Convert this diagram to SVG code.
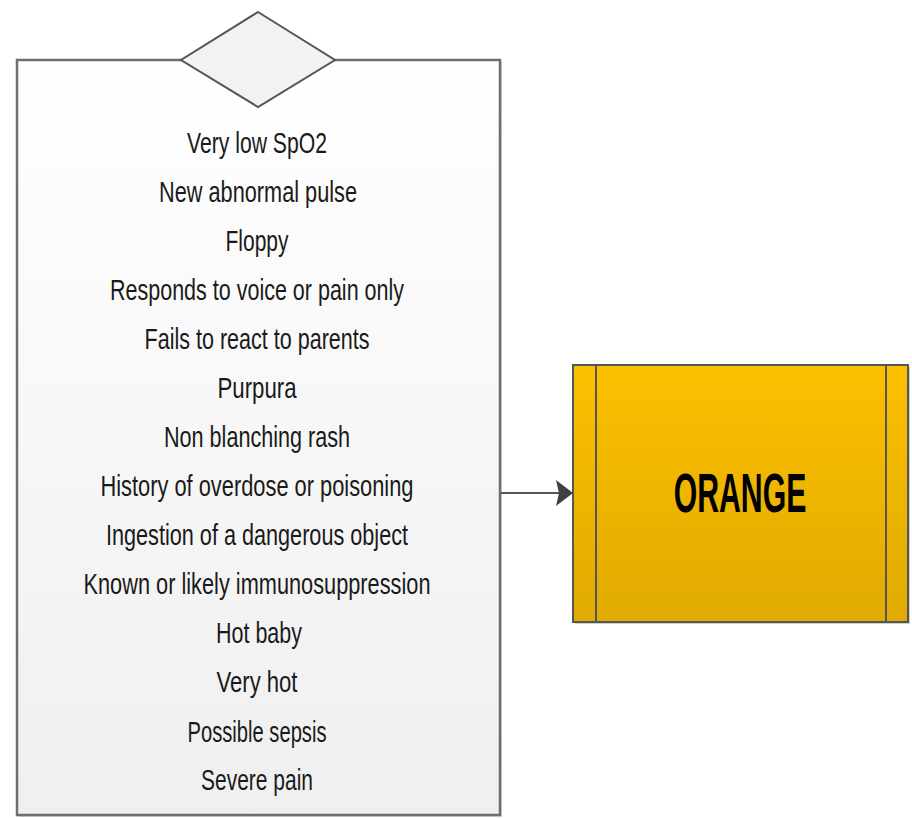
<svg xmlns="http://www.w3.org/2000/svg" width="912" height="818" viewBox="0 0 912 818">
<defs>
<linearGradient id="gBox" x1="0" y1="0" x2="0" y2="1">
<stop offset="0" stop-color="#ffffff"/>
<stop offset="1" stop-color="#efefef"/>
</linearGradient>
<linearGradient id="gOr" x1="0" y1="0" x2="0" y2="1">
<stop offset="0" stop-color="#fcc000"/>
<stop offset="1" stop-color="#e0aa00"/>
</linearGradient>
<marker id="arr" markerWidth="17" markerHeight="26" refX="16" refY="13" orient="auto" markerUnits="userSpaceOnUse">
<path d="M0,0 L17,13 L0,26 L3,13 Z" fill="#404040"/>
</marker>
<style>
.lbl{font-family:"Liberation Sans",Arial,sans-serif;font-size:30px;fill:#1a1a1a;text-anchor:middle}
.shape{stroke:#6e6e6e;stroke-width:2.5}
</style>
</defs>
<rect width="912" height="818" fill="#ffffff"/>
<g id="criteria">
<rect x="19" y="62" width="483" height="755" fill="#d8d8d8"/>
<rect x="17" y="60" width="483" height="755" fill="url(#gBox)" class="shape"/>
<text class="lbl" x="257" y="153" textLength="140" lengthAdjust="spacingAndGlyphs">Very low SpO2</text>
<text class="lbl" x="258" y="202" textLength="198" lengthAdjust="spacingAndGlyphs">New abnormal pulse</text>
<text class="lbl" x="257" y="251" textLength="63" lengthAdjust="spacingAndGlyphs">Floppy</text>
<text class="lbl" x="257" y="300" textLength="294" lengthAdjust="spacingAndGlyphs">Responds to voice or pain only</text>
<text class="lbl" x="257" y="349" textLength="225" lengthAdjust="spacingAndGlyphs">Fails to react to parents</text>
<text class="lbl" x="257" y="398" textLength="79" lengthAdjust="spacingAndGlyphs">Purpura</text>
<text class="lbl" x="257" y="447" textLength="186" lengthAdjust="spacingAndGlyphs">Non blanching rash</text>
<text class="lbl" x="257" y="496" textLength="313" lengthAdjust="spacingAndGlyphs">History of overdose or poisoning</text>
<text class="lbl" x="257" y="545" textLength="302" lengthAdjust="spacingAndGlyphs">Ingestion of a dangerous object</text>
<text class="lbl" x="257" y="594" textLength="347" lengthAdjust="spacingAndGlyphs">Known or likely immunosuppression</text>
<text class="lbl" x="259" y="643" textLength="86" lengthAdjust="spacingAndGlyphs">Hot baby</text>
<text class="lbl" x="257" y="692" textLength="81" lengthAdjust="spacingAndGlyphs">Very hot</text>
<text class="lbl" x="257" y="742" textLength="139" lengthAdjust="spacingAndGlyphs">Possible sepsis</text>
<text class="lbl" x="257" y="790" textLength="112" lengthAdjust="spacingAndGlyphs">Severe pain</text>
</g>
<g id="decision">
<polygon points="258,12 335,60 258,107 181,60" fill="#f2f2f2" stroke="#555555" stroke-width="2"/>
</g>
<g id="orange">
<rect x="575" y="367" width="335" height="257" fill="#cfcfcf"/>
<rect x="573" y="365" width="335" height="257" fill="url(#gOr)" stroke="#555555" stroke-width="2"/>
<line x1="596" y1="365" x2="596" y2="622" stroke="#555555" stroke-width="2"/>
<line x1="886" y1="365" x2="886" y2="622" stroke="#555555" stroke-width="2"/>
<text transform="translate(740,512) scale(0.54,1)" x="0" y="0" font-family="'Liberation Sans',Arial,sans-serif" font-weight="bold" font-size="56" fill="#000000" text-anchor="middle">ORANGE</text>
</g>
<g id="connectors">
<line x1="501" y1="493" x2="572" y2="493" stroke="#555555" stroke-width="2" marker-end="url(#arr)"/>
</g>
</svg>
